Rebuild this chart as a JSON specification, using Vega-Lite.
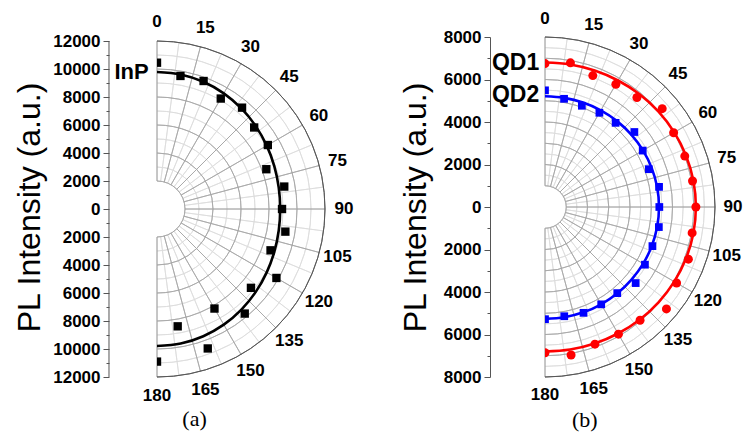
{
  "$schema": "https://vega.github.io/schema/vega-lite/v6.json",
  "padding": {"left": 13, "top": 9, "right": 5, "bottom": 5},
  "spacing": 220,
  "bounds": "flush",
  "config": {"view": {"stroke": null}, "font": "Liberation Sans"},
  "datasets": {
    "spokesMajor": [{"angle":0},{"angle":15},{"angle":30},{"angle":45},{"angle":60},{"angle":75},{"angle":90},{"angle":105},{"angle":120},{"angle":135},{"angle":150},{"angle":165},{"angle":180}],
    "spokesMinor": [{"angle":7.5},{"angle":22.5},{"angle":37.5},{"angle":52.5},{"angle":67.5},{"angle":82.5},{"angle":97.5},{"angle":112.5},{"angle":127.5},{"angle":142.5},{"angle":157.5},{"angle":172.5}],
    "angleLabels": [{"angle":0,"label":"0"},{"angle":15,"label":"15"},{"angle":30,"label":"30"},{"angle":45,"label":"45"},{"angle":60,"label":"60"},{"angle":75,"label":"75"},{"angle":90,"label":"90"},{"angle":105,"label":"105"},{"angle":120,"label":"120"},{"angle":135,"label":"135"},{"angle":150,"label":"150"},{"angle":165,"label":"165"},{"angle":180,"label":"180"}],
    "ringsMajorA": [{"r":2000},{"r":4000},{"r":6000},{"r":8000},{"r":10000}],
    "ringsMinorA": [{"r":3000},{"r":5000},{"r":7000},{"r":9000},{"r":11000}],
    "ringOuterA": [{"r":12000}],
    "ringsMajorB": [{"r":1000},{"r":2000},{"r":3000},{"r":4000},{"r":5000},{"r":6000},{"r":7000}],
    "ringsMinorB": [{"r":1500},{"r":2500},{"r":3500},{"r":4500},{"r":5500},{"r":6500},{"r":7500}],
    "ringOuterB": [{"r":8000}],
    "inp": [
      {"angle":0,"intensity":10450},{"angle":10,"intensity":9650},{"angle":20,"intensity":9730},{"angle":30,"intensity":9110},{"angle":40,"intensity":9450},{"angle":50,"intensity":9060},{"angle":60,"intensity":9140},{"angle":70,"intensity":8310},{"angle":80,"intensity":9230},{"angle":90,"intensity":8930},{"angle":100,"intensity":9310},{"angle":110,"intensity":8630},{"angle":120,"intensity":9850},{"angle":130,"intensity":8760},{"angle":140,"intensity":9750},{"angle":150,"intensity":8210},{"angle":160,"intensity":10600},{"angle":170,"intensity":8510},{"angle":180,"intensity":10900}
    ],
    "inpFit": [
      {"angle":0,"intensity":9790},{"angle":10,"intensity":9760},{"angle":20,"intensity":9670},{"angle":30,"intensity":9540},{"angle":40,"intensity":9380},{"angle":50,"intensity":9210},{"angle":60,"intensity":9050},{"angle":70,"intensity":8920},{"angle":80,"intensity":8830},{"angle":90,"intensity":8800},{"angle":100,"intensity":8830},{"angle":110,"intensity":8920},{"angle":120,"intensity":9050},{"angle":130,"intensity":9210},{"angle":140,"intensity":9380},{"angle":150,"intensity":9540},{"angle":160,"intensity":9670},{"angle":170,"intensity":9760},{"angle":180,"intensity":9790}
    ],
    "qd": [
      {"sample":"QD1","angle":0,"intensity":6750},{"sample":"QD1","angle":10,"intensity":6890},{"sample":"QD1","angle":20,"intensity":6580},{"sample":"QD1","angle":30,"intensity":6670},{"sample":"QD1","angle":40,"intensity":6730},{"sample":"QD1","angle":50,"intensity":7200},{"sample":"QD1","angle":60,"intensity":6990},{"sample":"QD1","angle":70,"intensity":7000},{"sample":"QD1","angle":80,"intensity":7050},{"sample":"QD1","angle":90,"intensity":7100},{"sample":"QD1","angle":100,"intensity":7030},{"sample":"QD1","angle":110,"intensity":7180},{"sample":"QD1","angle":120,"intensity":7150},{"sample":"QD1","angle":130,"intensity":7460},{"sample":"QD1","angle":140,"intensity":6960},{"sample":"QD1","angle":150,"intensity":6910},{"sample":"QD1","angle":160,"intensity":6870},{"sample":"QD1","angle":170,"intensity":7070},{"sample":"QD1","angle":180,"intensity":6860},
      {"sample":"QD2","angle":0,"intensity":5490},{"sample":"QD2","angle":10,"intensity":5170},{"sample":"QD2","angle":20,"intensity":5070},{"sample":"QD2","angle":30,"intensity":5120},{"sample":"QD2","angle":40,"intensity":5170},{"sample":"QD2","angle":50,"intensity":5490},{"sample":"QD2","angle":60,"intensity":5310},{"sample":"QD2","angle":70,"intensity":5200},{"sample":"QD2","angle":80,"intensity":5450},{"sample":"QD2","angle":90,"intensity":5380},{"sample":"QD2","angle":100,"intensity":5440},{"sample":"QD2","angle":110,"intensity":5380},{"sample":"QD2","angle":120,"intensity":5430},{"sample":"QD2","angle":130,"intensity":5570},{"sample":"QD2","angle":140,"intensity":5290},{"sample":"QD2","angle":150,"intensity":5290},{"sample":"QD2","angle":160,"intensity":5300},{"sample":"QD2","angle":170,"intensity":5220},{"sample":"QD2","angle":180,"intensity":5280}
    ],
    "qdFit": [
      {"sample":"QD1","angle":0,"intensity":6800},{"sample":"QD1","angle":10,"intensity":6810},{"sample":"QD1","angle":20,"intensity":6835},{"sample":"QD1","angle":30,"intensity":6875},{"sample":"QD1","angle":40,"intensity":6925},{"sample":"QD1","angle":50,"intensity":6975},{"sample":"QD1","angle":60,"intensity":7025},{"sample":"QD1","angle":70,"intensity":7065},{"sample":"QD1","angle":80,"intensity":7090},{"sample":"QD1","angle":90,"intensity":7100},{"sample":"QD1","angle":100,"intensity":7090},{"sample":"QD1","angle":110,"intensity":7065},{"sample":"QD1","angle":120,"intensity":7025},{"sample":"QD1","angle":130,"intensity":6975},{"sample":"QD1","angle":140,"intensity":6925},{"sample":"QD1","angle":150,"intensity":6875},{"sample":"QD1","angle":160,"intensity":6835},{"sample":"QD1","angle":170,"intensity":6810},{"sample":"QD1","angle":180,"intensity":6800},
      {"sample":"QD2","angle":0,"intensity":5210},{"sample":"QD2","angle":10,"intensity":5215},{"sample":"QD2","angle":20,"intensity":5230},{"sample":"QD2","angle":30,"intensity":5250},{"sample":"QD2","angle":40,"intensity":5275},{"sample":"QD2","angle":50,"intensity":5300},{"sample":"QD2","angle":60,"intensity":5325},{"sample":"QD2","angle":70,"intensity":5345},{"sample":"QD2","angle":80,"intensity":5360},{"sample":"QD2","angle":90,"intensity":5365},{"sample":"QD2","angle":100,"intensity":5360},{"sample":"QD2","angle":110,"intensity":5350},{"sample":"QD2","angle":120,"intensity":5335},{"sample":"QD2","angle":130,"intensity":5315},{"sample":"QD2","angle":140,"intensity":5300},{"sample":"QD2","angle":150,"intensity":5285},{"sample":"QD2","angle":160,"intensity":5275},{"sample":"QD2","angle":170,"intensity":5268},{"sample":"QD2","angle":180,"intensity":5265}
    ]
  },
  "hconcat": [
    {
      "width": 168,
      "height": 340,
      "resolve": {"axis": {"y": "independent"}},
      "layer": [
        {
          "data": {"name": "spokesMinor"},
          "mark": {"type": "arc", "filled": false, "stroke": "#dcdcdc", "strokeWidth": 0.8},
          "encoding": {
            "x": {"datum": 0, "type": "quantitative", "scale": {"domain": [0, 12000]}, "axis": null},
            "y": {"datum": 0, "type": "quantitative", "scale": {"domain": [-12000, 12286]}, "axis": null},
            "theta": {"field": "angle", "type": "quantitative", "stack": null, "scale": {"domain": [0, 360], "range": [0, 6.283185307179586]}},
            "theta2": {"field": "angle"},
            "radius": {"datum": 2000, "type": "quantitative", "scale": {"type": "linear", "domain": [0, 12000], "range": [0, 168]}},
            "radius2": {"datum": 12000}
          }
        },
        {
          "data": {"name": "ringsMinorA"},
          "mark": {"type": "arc", "filled": false, "stroke": "#dcdcdc", "strokeWidth": 0.8},
          "encoding": {
            "x": {"datum": 0, "type": "quantitative", "scale": {"domain": [0, 12000]}, "axis": null},
            "y": {"datum": 0, "type": "quantitative", "scale": {"domain": [-12000, 12286]}, "axis": null},
            "theta": {"datum": 0, "type": "quantitative", "scale": {"domain": [0, 360], "range": [0, 6.283185307179586]}},
            "theta2": {"datum": 180},
            "radius": {"field": "r", "type": "quantitative", "stack": null, "scale": {"type": "linear", "domain": [0, 12000], "range": [0, 168]}},
            "radius2": {"field": "r"}
          }
        },
        {
          "data": {"name": "ringsMajorA"},
          "mark": {"type": "arc", "filled": false, "stroke": "#a6a6a6", "strokeWidth": 0.8},
          "encoding": {
            "x": {"datum": 0, "type": "quantitative", "scale": {"domain": [0, 12000]}, "axis": null},
            "y": {"datum": 0, "type": "quantitative", "scale": {"domain": [-12000, 12286]}, "axis": null},
            "theta": {"datum": 0, "type": "quantitative", "scale": {"domain": [0, 360], "range": [0, 6.283185307179586]}},
            "theta2": {"datum": 180},
            "radius": {"field": "r", "type": "quantitative", "stack": null, "scale": {"type": "linear", "domain": [0, 12000], "range": [0, 168]}},
            "radius2": {"field": "r"}
          }
        },
        {
          "data": {"name": "spokesMajor"},
          "mark": {"type": "arc", "filled": false, "stroke": "#a6a6a6", "strokeWidth": 0.8},
          "encoding": {
            "x": {"datum": 0, "type": "quantitative", "scale": {"domain": [0, 12000]}, "axis": null},
            "y": {"datum": 0, "type": "quantitative", "scale": {"domain": [-12000, 12286]}, "axis": null},
            "theta": {"field": "angle", "type": "quantitative", "stack": null, "scale": {"domain": [0, 360], "range": [0, 6.283185307179586]}},
            "theta2": {"field": "angle"},
            "radius": {"datum": 2000, "type": "quantitative", "scale": {"type": "linear", "domain": [0, 12000], "range": [0, 168]}},
            "radius2": {"datum": 12000}
          }
        },
        {
          "data": {"name": "ringOuterA"},
          "mark": {"type": "arc", "filled": false, "stroke": "#555555", "strokeWidth": 0.9},
          "encoding": {
            "x": {"datum": 0, "type": "quantitative", "scale": {"domain": [0, 12000]}, "axis": null},
            "y": {"datum": 0, "type": "quantitative", "scale": {"domain": [-12000, 12286]}, "axis": null},
            "theta": {"datum": 0, "type": "quantitative", "scale": {"domain": [0, 360], "range": [0, 6.283185307179586]}},
            "theta2": {"datum": 180},
            "radius": {"field": "r", "type": "quantitative", "stack": null, "scale": {"type": "linear", "domain": [0, 12000], "range": [0, 168]}},
            "radius2": {"field": "r"}
          }
        },
        {
          "data": {"name": "ringOuterA"},
          "mark": {"type": "rule", "color": "#555555", "strokeWidth": 1},
          "encoding": {
            "x": {"datum": -3429, "type": "quantitative", "scale": {"domain": [0, 12000]}, "axis": null},
            "y": {"datum": -12000, "type": "quantitative", "scale": {"domain": [-12000, 12286]}, "axis": null},
            "y2": {"datum": 12000}
          }
        },
        {
          "data": {"name": "angleLabels"},
          "mark": {"type": "text", "font": "Liberation Sans", "fontWeight": "bold", "fontSize": 17, "align": "center", "baseline": "middle", "color": "black"},
          "encoding": {
            "x": {"datum": 0, "type": "quantitative", "scale": {"domain": [0, 12000]}, "axis": null},
            "y": {"datum": 0, "type": "quantitative", "scale": {"domain": [-12000, 12286]}, "axis": null},
            "theta": {"field": "angle", "type": "quantitative", "stack": null, "scale": {"domain": [0, 360], "range": [0, 6.283185307179586]}},
            "radius": {"datum": 13350, "type": "quantitative", "scale": {"type": "linear", "domain": [0, 12000], "range": [0, 168]}},
            "text": {"field": "label"}
          }
        },
        {
          "data": {"name": "inpFit"},
          "transform": [
            {"calculate": "datum.intensity * sin(datum.angle * PI / 180)", "as": "px"},
            {"calculate": "datum.intensity * cos(datum.angle * PI / 180)", "as": "py"}
          ],
          "mark": {"type": "line", "color": "black", "strokeWidth": 2.6, "interpolate": "catmull-rom", "clip": true},
          "encoding": {
            "x": {"field": "px", "type": "quantitative", "scale": {"domain": [0, 12000]}, "axis": null},
            "y": {"field": "py", "type": "quantitative", "scale": {"domain": [-12000, 12286]}, "axis": null},
            "order": {"field": "angle"}
          }
        },
        {
          "data": {"name": "inp"},
          "transform": [
            {"calculate": "datum.intensity * sin(datum.angle * PI / 180)", "as": "px"},
            {"calculate": "datum.intensity * cos(datum.angle * PI / 180)", "as": "py"}
          ],
          "mark": {"type": "point", "shape": "square", "filled": true, "color": "black", "opacity": 1, "size": 70, "clip": true},
          "encoding": {
            "x": {"field": "px", "type": "quantitative", "scale": {"domain": [0, 12000]}, "axis": null},
            "y": {"field": "py", "type": "quantitative", "scale": {"domain": [-12000, 12286]},
              "axis": {"orient": "left", "offset": 48, "domain": false, "values": [-12000,-10000,-8000,-6000,-4000,-2000,0,2000,4000,6000,8000,10000,12000],
                "labelExpr": "format(abs(datum.value), 'd')", "tickSize": 6, "labelPadding": 3, "labelFont": "Liberation Sans", "labelFontWeight": "bold", "labelFontSize": 17, "labelColor": "black", "labelFlush": false, "labelOverlap": false,
                "tickColor": "#555555", "grid": false,
                "title": "PL Intensity (a.u.)", "titleFont": "Liberation Sans", "titleFontSize": 32, "titleFontWeight": "normal", "titleColor": "black", "titlePadding": 6}}
          }
        },
        {
          "data": {"values": [{"label": "InP"}]},
          "mark": {"type": "text", "font": "Liberation Sans", "fontWeight": "bold", "fontSize": 22, "align": "right", "baseline": "middle", "color": "black"},
          "encoding": {
            "x": {"datum": -590, "type": "quantitative", "scale": {"domain": [0, 12000]}, "axis": null},
            "y": {"datum": 9800, "type": "quantitative", "scale": {"domain": [-12000, 12286]},
              "axis": {"orient": "left", "offset": 48, "values": [-11000,-9000,-7000,-5000,-3000,-1000,1000,3000,5000,7000,9000,11000], "tickSize": 3, "labels": false, "domain": false, "grid": false, "title": null, "tickColor": "#555555"}},
            "text": {"field": "label"}
          }
        },
        {
          "data": {"values": [{"label": "(a)"}]},
          "mark": {"type": "text", "font": "Liberation Serif", "fontSize": 22, "align": "center", "baseline": "middle", "color": "black"},
          "encoding": {
            "x": {"datum": 2680, "type": "quantitative", "scale": {"domain": [0, 12000]}, "axis": null},
            "y": {"datum": -15020, "type": "quantitative", "scale": {"domain": [-12000, 12286]}, "axis": null},
            "text": {"field": "label"}
          }
        }
      ]
    },
    {
      "width": 170,
      "height": 340,
      "resolve": {"axis": {"y": "independent"}},
      "layer": [
        {
          "data": {"name": "spokesMinor"},
          "mark": {"type": "arc", "filled": false, "stroke": "#dcdcdc", "strokeWidth": 0.8},
          "encoding": {
            "x": {"datum": 0, "type": "quantitative", "scale": {"domain": [0, 8000]}, "axis": null},
            "y": {"datum": 0, "type": "quantitative", "scale": {"domain": [-8000, 8000]}, "axis": null},
            "theta": {"field": "angle", "type": "quantitative", "stack": null, "scale": {"domain": [0, 360], "range": [0, 6.283185307179586]}},
            "theta2": {"field": "angle"},
            "radius": {"datum": 1000, "type": "quantitative", "scale": {"type": "linear", "domain": [0, 8000], "range": [0, 170]}},
            "radius2": {"datum": 8000}
          }
        },
        {
          "data": {"name": "ringsMinorB"},
          "mark": {"type": "arc", "filled": false, "stroke": "#dcdcdc", "strokeWidth": 0.8},
          "encoding": {
            "x": {"datum": 0, "type": "quantitative", "scale": {"domain": [0, 8000]}, "axis": null},
            "y": {"datum": 0, "type": "quantitative", "scale": {"domain": [-8000, 8000]}, "axis": null},
            "theta": {"datum": 0, "type": "quantitative", "scale": {"domain": [0, 360], "range": [0, 6.283185307179586]}},
            "theta2": {"datum": 180},
            "radius": {"field": "r", "type": "quantitative", "stack": null, "scale": {"type": "linear", "domain": [0, 8000], "range": [0, 170]}},
            "radius2": {"field": "r"}
          }
        },
        {
          "data": {"name": "ringsMajorB"},
          "mark": {"type": "arc", "filled": false, "stroke": "#a6a6a6", "strokeWidth": 0.8},
          "encoding": {
            "x": {"datum": 0, "type": "quantitative", "scale": {"domain": [0, 8000]}, "axis": null},
            "y": {"datum": 0, "type": "quantitative", "scale": {"domain": [-8000, 8000]}, "axis": null},
            "theta": {"datum": 0, "type": "quantitative", "scale": {"domain": [0, 360], "range": [0, 6.283185307179586]}},
            "theta2": {"datum": 180},
            "radius": {"field": "r", "type": "quantitative", "stack": null, "scale": {"type": "linear", "domain": [0, 8000], "range": [0, 170]}},
            "radius2": {"field": "r"}
          }
        },
        {
          "data": {"name": "spokesMajor"},
          "mark": {"type": "arc", "filled": false, "stroke": "#a6a6a6", "strokeWidth": 0.8},
          "encoding": {
            "x": {"datum": 0, "type": "quantitative", "scale": {"domain": [0, 8000]}, "axis": null},
            "y": {"datum": 0, "type": "quantitative", "scale": {"domain": [-8000, 8000]}, "axis": null},
            "theta": {"field": "angle", "type": "quantitative", "stack": null, "scale": {"domain": [0, 360], "range": [0, 6.283185307179586]}},
            "theta2": {"field": "angle"},
            "radius": {"datum": 1000, "type": "quantitative", "scale": {"type": "linear", "domain": [0, 8000], "range": [0, 170]}},
            "radius2": {"datum": 8000}
          }
        },
        {
          "data": {"name": "ringOuterB"},
          "mark": {"type": "arc", "filled": false, "stroke": "#555555", "strokeWidth": 0.9},
          "encoding": {
            "x": {"datum": 0, "type": "quantitative", "scale": {"domain": [0, 8000]}, "axis": null},
            "y": {"datum": 0, "type": "quantitative", "scale": {"domain": [-8000, 8000]}, "axis": null},
            "theta": {"datum": 0, "type": "quantitative", "scale": {"domain": [0, 360], "range": [0, 6.283185307179586]}},
            "theta2": {"datum": 180},
            "radius": {"field": "r", "type": "quantitative", "stack": null, "scale": {"type": "linear", "domain": [0, 8000], "range": [0, 170]}},
            "radius2": {"field": "r"}
          }
        },
        {
          "data": {"name": "angleLabels"},
          "mark": {"type": "text", "font": "Liberation Sans", "fontWeight": "bold", "fontSize": 17, "align": "center", "baseline": "middle", "color": "black"},
          "encoding": {
            "x": {"datum": 0, "type": "quantitative", "scale": {"domain": [0, 8000]}, "axis": null},
            "y": {"datum": 0, "type": "quantitative", "scale": {"domain": [-8000, 8000]}, "axis": null},
            "theta": {"field": "angle", "type": "quantitative", "stack": null, "scale": {"domain": [0, 360], "range": [0, 6.283185307179586]}},
            "radius": {"datum": 8850, "type": "quantitative", "scale": {"type": "linear", "domain": [0, 8000], "range": [0, 170]}},
            "text": {"field": "label"}
          }
        },
        {
          "data": {"name": "qdFit"},
          "transform": [
            {"calculate": "datum.intensity * sin(datum.angle * PI / 180)", "as": "px"},
            {"calculate": "datum.intensity * cos(datum.angle * PI / 180)", "as": "py"}
          ],
          "mark": {"type": "line", "strokeWidth": 2.6, "interpolate": "catmull-rom", "clip": true},
          "encoding": {
            "x": {"field": "px", "type": "quantitative", "scale": {"domain": [0, 8000]}, "axis": null},
            "y": {"field": "py", "type": "quantitative", "scale": {"domain": [-8000, 8000]}, "axis": null},
            "color": {"field": "sample", "type": "nominal", "scale": {"domain": ["QD1", "QD2"], "range": ["#ff0000", "#0000ff"]}, "legend": null},
            "order": {"field": "angle"}
          }
        },
        {
          "data": {"name": "qd"},
          "transform": [
            {"filter": "datum.sample === 'QD1'"},
            {"calculate": "datum.intensity * sin(datum.angle * PI / 180)", "as": "px"},
            {"calculate": "datum.intensity * cos(datum.angle * PI / 180)", "as": "py"}
          ],
          "mark": {"type": "point", "shape": "circle", "filled": true, "color": "#ff0000", "opacity": 1, "size": 81, "clip": true},
          "encoding": {
            "x": {"field": "px", "type": "quantitative", "scale": {"domain": [0, 8000]}, "axis": null},
            "y": {"field": "py", "type": "quantitative", "scale": {"domain": [-8000, 8000]},
              "axis": {"orient": "left", "offset": 55, "values": [-8000,-6000,-4000,-2000,0,2000,4000,6000,8000],
                "labelExpr": "format(abs(datum.value), 'd')", "tickSize": 6, "labelPadding": 3, "labelFont": "Liberation Sans", "labelFontWeight": "bold", "labelFontSize": 17, "labelColor": "black", "labelFlush": false, "labelOverlap": false,
                "domainColor": "#555555", "tickColor": "#555555", "grid": false,
                "title": "PL Intensity (a.u.)", "titleFont": "Liberation Sans", "titleFontSize": 32, "titleFontWeight": "normal", "titleColor": "black", "titlePadding": 11}}
          }
        },
        {
          "data": {"name": "qd"},
          "transform": [
            {"filter": "datum.sample === 'QD2'"},
            {"calculate": "datum.intensity * sin(datum.angle * PI / 180)", "as": "px"},
            {"calculate": "datum.intensity * cos(datum.angle * PI / 180)", "as": "py"}
          ],
          "mark": {"type": "point", "shape": "square", "filled": true, "color": "#0000ff", "opacity": 1, "size": 60, "clip": true},
          "encoding": {
            "x": {"field": "px", "type": "quantitative", "scale": {"domain": [0, 8000]}, "axis": null},
            "y": {"field": "py", "type": "quantitative", "scale": {"domain": [-8000, 8000]}, "axis": null}
          }
        },
        {
          "data": {"values": [{"label": "QD1", "level": 6760}, {"label": "QD2", "level": 5270}]},
          "mark": {"type": "text", "font": "Liberation Sans", "fontWeight": "bold", "fontSize": 23, "align": "right", "baseline": "middle", "color": "black"},
          "encoding": {
            "x": {"datum": -270, "type": "quantitative", "scale": {"domain": [0, 8000]}, "axis": null},
            "y": {"field": "level", "type": "quantitative", "scale": {"domain": [-8000, 8000]},
              "axis": {"orient": "left", "offset": 55, "values": [-7000,-5000,-3000,-1000,1000,3000,5000,7000], "tickSize": 3, "labels": false, "domain": false, "grid": false, "title": null, "tickColor": "#555555"}},
            "text": {"field": "label"}
          }
        },
        {
          "data": {"values": [{"label": "(b)"}]},
          "mark": {"type": "text", "font": "Liberation Serif", "fontSize": 22, "align": "center", "baseline": "middle", "color": "black"},
          "encoding": {
            "x": {"datum": 1870, "type": "quantitative", "scale": {"domain": [0, 8000]}, "axis": null},
            "y": {"datum": -10020, "type": "quantitative", "scale": {"domain": [-8000, 8000]}, "axis": null},
            "text": {"field": "label"}
          }
        }
      ]
    }
  ]
}
